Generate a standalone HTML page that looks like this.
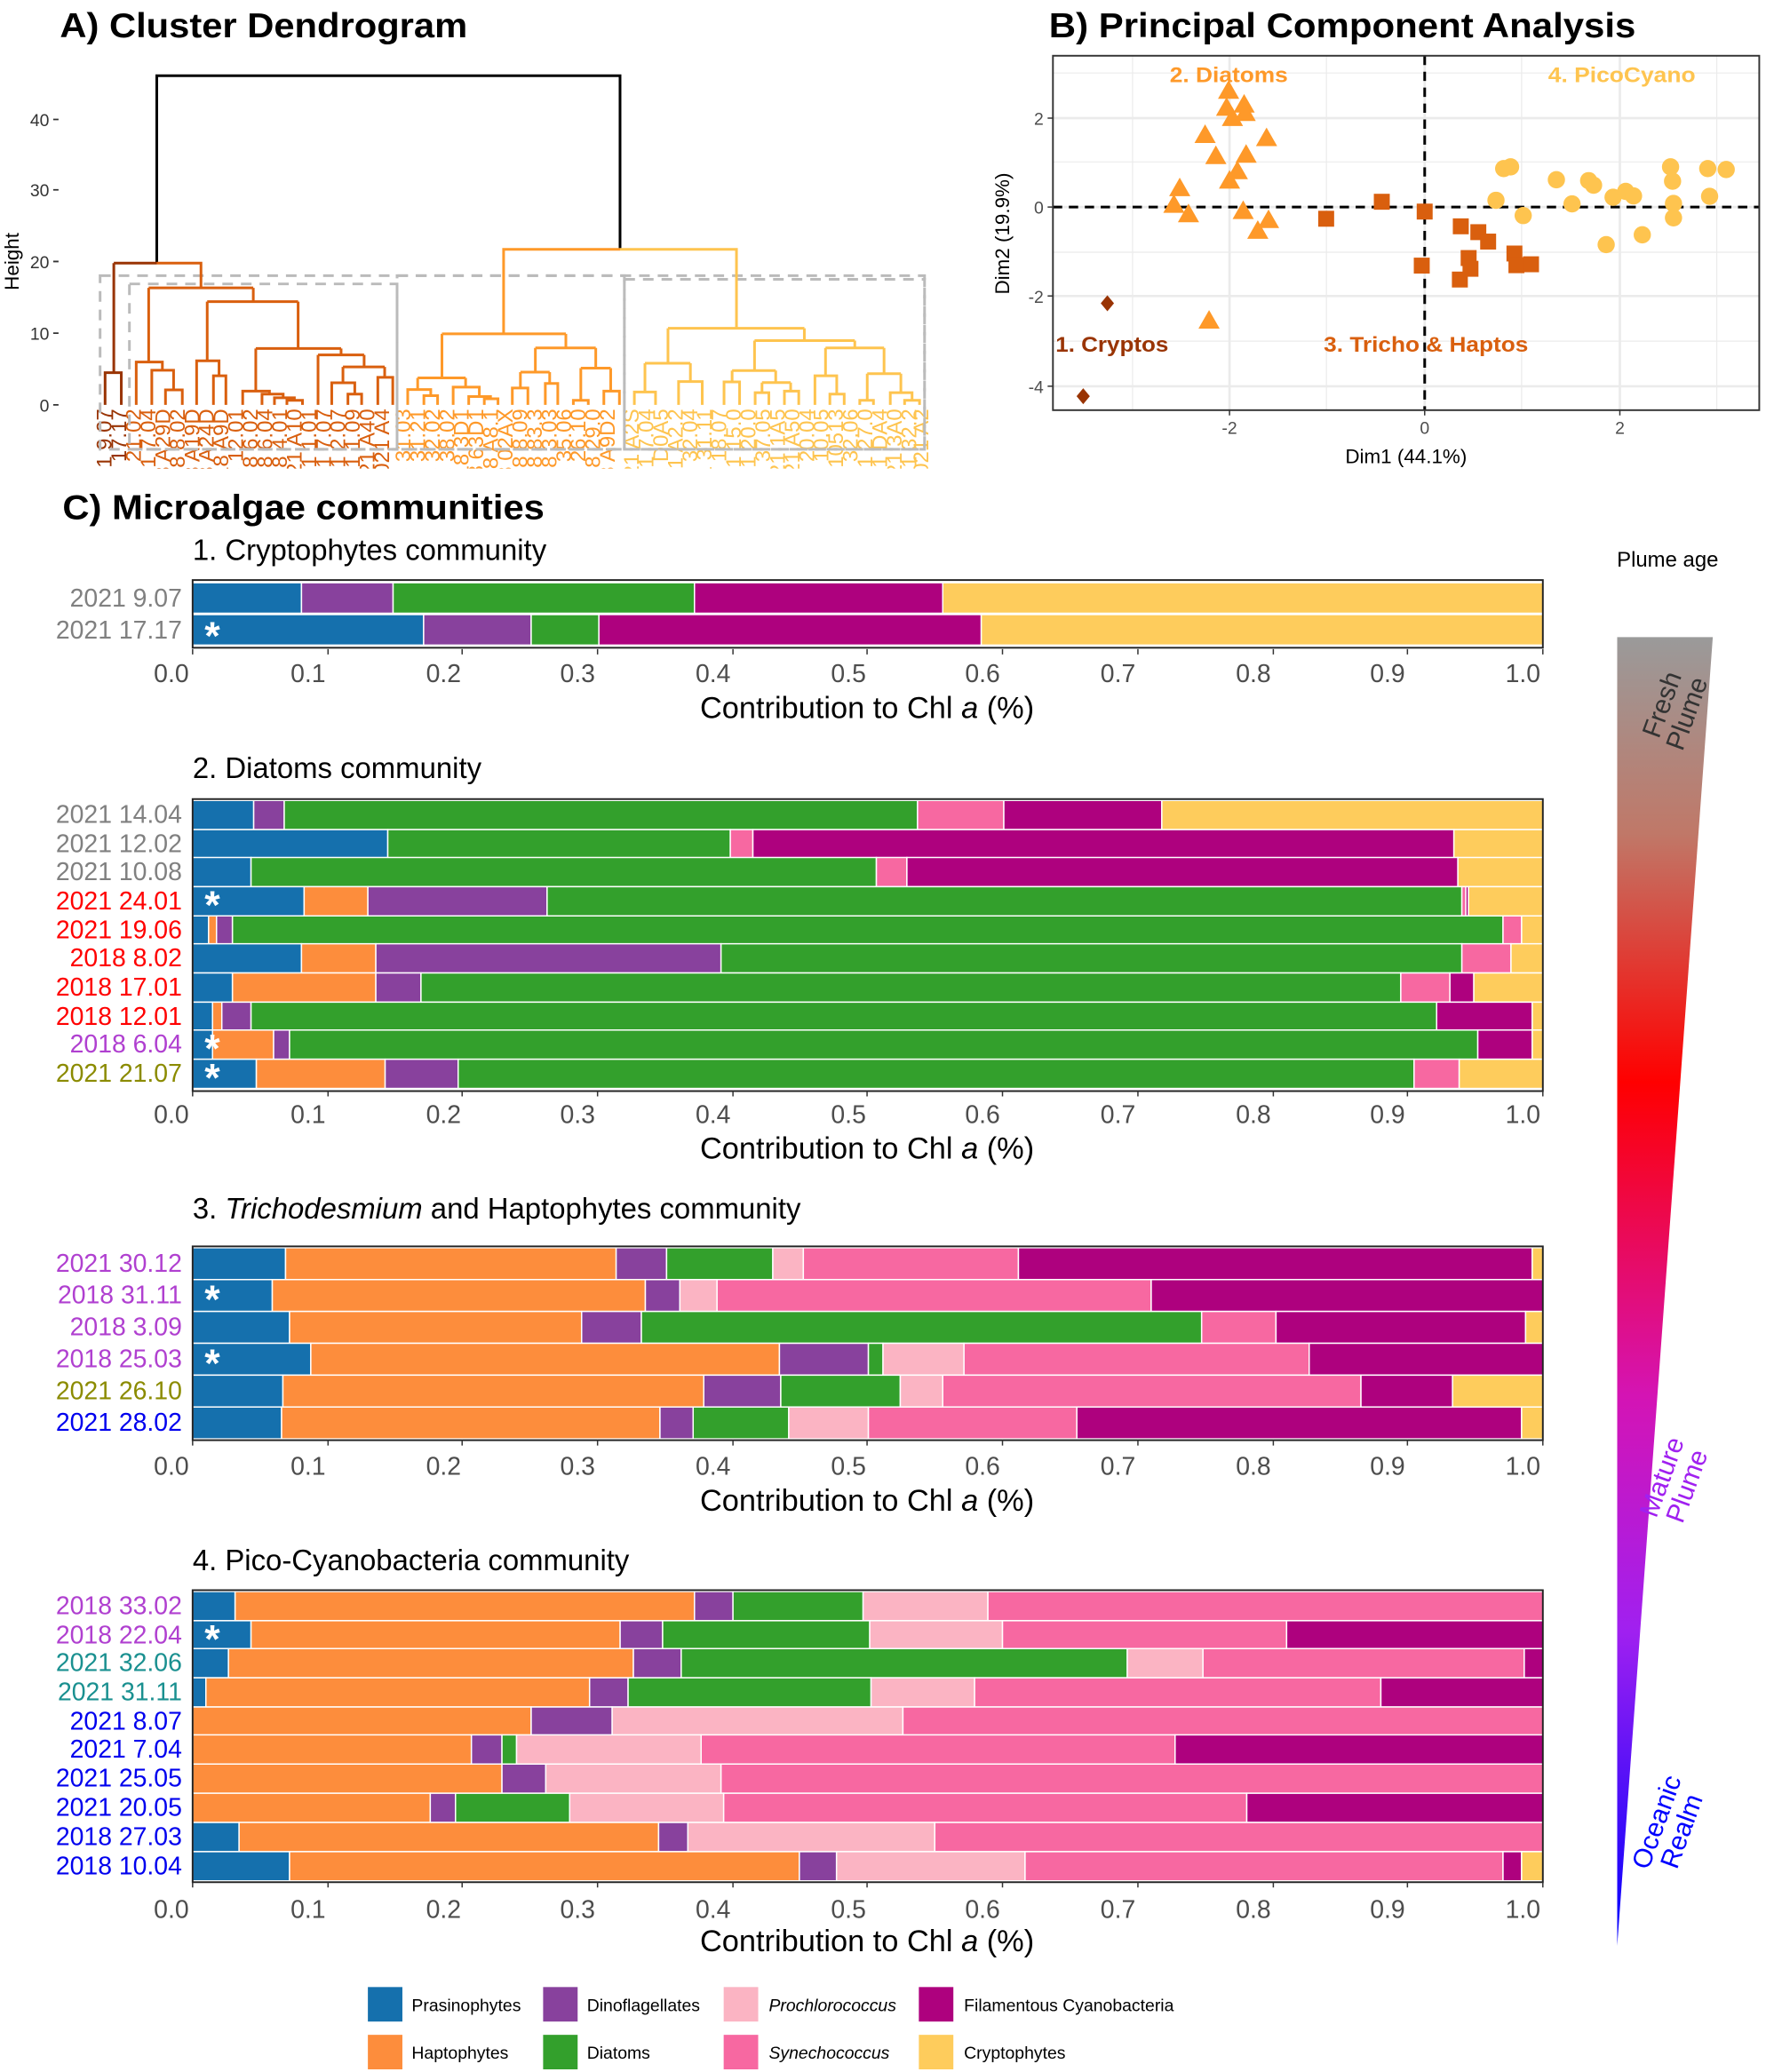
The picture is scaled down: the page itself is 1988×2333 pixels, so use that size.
<!DOCTYPE html>
<html><head><meta charset="utf-8"><style>
html,body{margin:0;padding:0;background:#fff}
svg{display:block}
text{font-family:"Liberation Sans",sans-serif}
.P{fill:#1570ad}.H{fill:#fd8d3c}.D{fill:#88419d}.Di{fill:#33a02c}.Pr{fill:#fbb4c3}.Sy{fill:#f768a1}.F{fill:#ae017e}.C{fill:#fecc5c}
.bars rect{stroke:#fff;stroke-width:1}
.lab{font-size:19px;text-anchor:end}
.tick{font-size:19px;fill:#4d4d4d;text-anchor:middle}
.ast{font-size:30px;font-weight:bold;fill:#fff}
.leaf{font-size:16px;text-anchor:end}
.lg{font-size:13px}
</style></head><body>
<svg width="1988" height="2333" viewBox="0 0 1330 1561" xmlns="http://www.w3.org/2000/svg">
<defs>
<path id="tri" d="M0 -8 L-8 6 L8 6Z" fill="#fe9929"/>
<rect id="sq" x="-6" y="-6" width="12" height="12" fill="#d95f0e"/>
<circle id="ci" r="6.5" fill="#fec44f"/>
<path id="di" d="M0 -6 L5 0 L0 6 L-5 0Z" fill="#993404"/>
<clipPath id="lc"><rect x="60" y="290" width="660" height="63"/></clipPath>
<linearGradient id="pg" gradientUnits="userSpaceOnUse" x1="0" y1="480" x2="0" y2="1466">
<stop offset="0" stop-color="#9a9a9a"/><stop offset="0.15" stop-color="#c07868"/><stop offset="0.34" stop-color="#ff0000"/><stop offset="0.58" stop-color="#d414b4"/><stop offset="0.76" stop-color="#a020f0"/><stop offset="1" stop-color="#0000ff"/>
</linearGradient>
</defs>

<!-- A) Dendrogram -->
<text x="45" y="28" font-size="26" font-weight="bold" textLength="307" lengthAdjust="spacingAndGlyphs">A) Cluster Dendrogram</text>
<g font-size="13" fill="#333" text-anchor="end">
<text x="37" y="95">40</text><text x="37" y="148">30</text><text x="37" y="202">20</text><text x="37" y="256">10</text><text x="37" y="310">0</text>
</g>
<g stroke="#333" stroke-width="1.2"><path d="M40 90H44M40 143H44M40 197H44M40 251H44M40 305H44"/></g>
<text transform="translate(14,197) rotate(-90)" font-size="15" text-anchor="middle">Height</text>

<g class="leaf" clip-path="url(#lc)">
<g fill="#993404">
<text transform="translate(84,308) rotate(-90)">2021 9.07</text><text transform="translate(95,308) rotate(-90)">2021 17.17</text>
</g>
<g fill="#d95f0e">
<text transform="translate(106,308) rotate(-90)">2021 21.02</text><text transform="translate(117,308) rotate(-90)">2021 7.04</text><text transform="translate(128,308) rotate(-90)">2018 A29D</text><text transform="translate(139,308) rotate(-90)">2018 8.02</text><text transform="translate(150,308) rotate(-90)">2018 A19D</text><text transform="translate(161,308) rotate(-90)">2018 A24D</text><text transform="translate(172,308) rotate(-90)">2018 A9D</text><text transform="translate(183,308) rotate(-90)">2018 12.01</text><text transform="translate(194,308) rotate(-90)">2018 6.02</text><text transform="translate(205,308) rotate(-90)">2018 6.04</text><text transform="translate(216,308) rotate(-90)">2018 4.01</text><text transform="translate(227,308) rotate(-90)">2021 A10</text><text transform="translate(238,308) rotate(-90)">2021 1.01</text><text transform="translate(249,308) rotate(-90)">2021 7.07</text><text transform="translate(260,308) rotate(-90)">2021 2.07</text><text transform="translate(271,308) rotate(-90)">2021 1.09</text><text transform="translate(282,308) rotate(-90)">2021 A40</text><text transform="translate(293,308) rotate(-90)">2021 A4</text>
</g>
<g fill="#fe9929">
<text transform="translate(309,308) rotate(-90)">2018 31.03</text><text transform="translate(320,308) rotate(-90)">2018 31.21</text><text transform="translate(331,308) rotate(-90)">2018 32.02</text><text transform="translate(342,308) rotate(-90)">2018 38.02</text><text transform="translate(353,308) rotate(-90)">2018 3D1</text><text transform="translate(364,308) rotate(-90)">2018 63D1</text><text transform="translate(375,308) rotate(-90)">2018 A8.1</text><text transform="translate(386,308) rotate(-90)">2018 02AX</text><text transform="translate(397,308) rotate(-90)">2018 8.09</text><text transform="translate(408,308) rotate(-90)">2018 83.3</text><text transform="translate(419,308) rotate(-90)">2018 3.03</text><text transform="translate(430,308) rotate(-90)">2018 35.06</text><text transform="translate(441,308) rotate(-90)">2018 26.10</text><text transform="translate(452,308) rotate(-90)">2018 29.0</text><text transform="translate(463,308) rotate(-90)">2018 A9D2</text>
</g>
<g fill="#fec44f">
<text transform="translate(481,308) rotate(-90)">2021 A2S</text><text transform="translate(492,308) rotate(-90)">2021 7.04</text><text transform="translate(503,308) rotate(-90)">2021 D0A5</text><text transform="translate(514,308) rotate(-90)">2021 A2.2</text><text transform="translate(525,308) rotate(-90)">2021 32.04</text><text transform="translate(536,308) rotate(-90)">2021 31.11</text><text transform="translate(547,308) rotate(-90)">2021 18.07</text><text transform="translate(558,308) rotate(-90)">2021 15.0</text><text transform="translate(569,308) rotate(-90)">2021 20.0</text><text transform="translate(580,308) rotate(-90)">2021 37.05</text><text transform="translate(591,308) rotate(-90)">2021 1A5</text><text transform="translate(602,308) rotate(-90)">2021 A50</text><text transform="translate(613,308) rotate(-90)">2021 20.04</text><text transform="translate(624,308) rotate(-90)">2021 10.05</text><text transform="translate(635,308) rotate(-90)">2021 10513</text><text transform="translate(646,308) rotate(-90)">2021 32.06</text><text transform="translate(657,308) rotate(-90)">2021 27.0</text><text transform="translate(668,308) rotate(-90)">2021 DA4</text><text transform="translate(679,308) rotate(-90)">2021 3A0</text><text transform="translate(690,308) rotate(-90)">2021 32.2</text><text transform="translate(699,308) rotate(-90)">2021 A2</text>
</g>
</g>

<g stroke="#bbbbbb" stroke-dasharray="8 6" stroke-width="2" fill="none">
<rect x="75.3" y="207.7" width="621" height="130.8"/>
<rect x="97.4" y="213.9" width="201.6" height="124.6"/>
<rect x="299" y="207.7" width="171.2" height="130.8"/>
<rect x="470.2" y="210.4" width="226.1" height="128.1"/>
</g>

<g transform="translate(1.22,0.49) scale(0.469,0.2307)" fill="none" stroke-width="3">
<path vector-effect="non-scaling-stroke" stroke="#000" d="M249 857 V245 H993 V812"/>
<path vector-effect="non-scaling-stroke" stroke="#993404" d="M180 857 H249 M180 857 V1215 M166 1320 V1215 H192 V1320"/>
<path vector-effect="non-scaling-stroke" stroke="#d95f0e" d="M249 857 H320 V938 M236 938 H404 M236 938 V1180 M216 1320 V1180 H258 V1207 M241 1320 V1207 H276 V1271 M263 1320 V1271 H290 V1320 M404 938 V983 M330 983 H476 M330 983 V1176 M313 1320 V1176 H349 V1225 M340 1320 V1225 H360 V1320 M476 983 V1136 M408 1136 H545 M408 1136 V1275 M387 1320 V1275 H430 V1285 M418 1320 V1285 H452 V1297 M438 1320 V1297 H470 V1305 M458 1320 V1305 H483 V1320 M545 1136 V1157 M508 1157 H582 M508 1157 V1320 M582 1157 V1196 M548 1196 H615 M548 1196 V1248 M530 1320 V1248 H567 V1285 M556 1320 V1285 H578 V1320 M615 1196 V1230 M604 1320 V1230 H628 V1320"/>
<path vector-effect="non-scaling-stroke" stroke="#fe9929" d="M993 812 H806 V1088 M707 1088 H906 M707 1088 V1232 M668 1232 H745 M668 1232 V1270 M652 1320 V1270 H689 V1290 M678 1320 V1290 H700 V1320 M745 1232 V1262 M725 1320 V1262 H767 V1293 M750 1320 V1293 H785 V1300 M775 1320 V1300 H797 V1320 M906 1088 V1134 M857 1134 H954 M857 1134 V1213 M833 1213 H880 M833 1213 V1265 M820 1320 V1265 H845 V1320 M880 1213 V1250 M873 1320 V1250 H893 V1320 M954 1134 V1200 M930 1200 H978 M930 1200 V1305 M918 1320 V1305 H942 V1320 M978 1200 V1275 M967 1320 V1275 H992 V1320"/>
<path vector-effect="non-scaling-stroke" stroke="#fec44f" d="M993 812 H1180 V1070 M1070 1070 H1289 M1070 1070 V1184 M1033 1184 H1106 M1033 1184 V1278 M1016 1320 V1278 H1050 V1320 M1106 1184 V1244 M1087 1320 V1244 H1125 V1320 M1289 1070 V1110 M1209 1110 H1370 M1209 1110 V1208 M1173 1208 H1243 M1173 1208 V1245 M1160 1320 V1245 H1185 V1320 M1243 1208 V1247 M1221 1247 H1267 M1221 1247 V1280 M1210 1320 V1280 H1232 V1320 M1267 1247 V1275 M1257 1320 V1275 H1280 V1320 M1370 1110 V1134 M1323 1134 H1417 M1323 1134 V1225 M1306 1320 V1225 H1341 V1285 M1330 1320 V1285 H1353 V1320 M1417 1134 V1218 M1390 1218 H1444 M1390 1218 V1305 M1378 1320 V1305 H1400 V1320 M1444 1218 V1280 M1427 1320 V1280 H1462 V1305 M1450 1320 V1305 H1474 V1320"/>
</g>

<!-- B) PCA -->
<text x="790" y="28" font-size="26" font-weight="bold" textLength="442" lengthAdjust="spacingAndGlyphs">B) Principal Component Analysis</text>
<g stroke="#ebebeb" stroke-width="0.8"><path d="M853 42V309M999 42V309M1146 42V309M1293 42V309M793 55H1325M793 122H1325M793 190H1325M793 257H1325"/></g>
<g stroke="#ebebeb" stroke-width="1.8"><path d="M926 42V309M1073 42V309M1220 42V309M793 89H1325M793 156H1325M793 223H1325M793 291H1325"/></g>
<g stroke="#000" stroke-width="2" stroke-dasharray="7 5"><path d="M1073 42V309M793 156H1325"/></g>
<g>
<use href="#tri" x="925.3" y="68.4"/><use href="#tri" x="923.8" y="81.2"/><use href="#tri" x="937" y="78.8"/><use href="#tri" x="937.8" y="85.2"/><use href="#tri" x="928.2" y="88.9"/><use href="#tri" x="907.6" y="101.7"/><use href="#tri" x="953.9" y="104.1"/><use href="#tri" x="915.7" y="117.6"/><use href="#tri" x="938.5" y="116.6"/><use href="#tri" x="931.9" y="129"/><use href="#tri" x="926" y="136.1"/><use href="#tri" x="888.5" y="141.8"/><use href="#tri" x="884.1" y="154.3"/><use href="#tri" x="895.1" y="161.4"/><use href="#tri" x="936.3" y="159"/><use href="#tri" x="955.4" y="165.8"/><use href="#tri" x="947.3" y="173.9"/><use href="#tri" x="910.6" y="241.6"/>
<use href="#sq" x="1040.7" y="152"/><use href="#sq" x="998.8" y="164.8"/><use href="#sq" x="1073" y="159.4"/><use href="#sq" x="1100.2" y="170.5"/><use href="#sq" x="1113.4" y="174.9"/><use href="#sq" x="1120.8" y="182"/><use href="#sq" x="1140.6" y="191"/><use href="#sq" x="1106.1" y="194.4"/><use href="#sq" x="1107.5" y="202.5"/><use href="#sq" x="1070.8" y="200.1"/><use href="#sq" x="1099.5" y="210.6"/><use href="#sq" x="1142.1" y="199.8"/><use href="#sq" x="1153.1" y="199.1"/>
<use href="#ci" x="1132.5" y="127"/><use href="#ci" x="1137.7" y="125.7"/><use href="#ci" x="1126.7" y="150.9"/><use href="#ci" x="1147.2" y="162.4"/><use href="#ci" x="1172.2" y="135.4"/><use href="#ci" x="1184" y="153.6"/><use href="#ci" x="1196.5" y="136.1"/><use href="#ci" x="1200.2" y="139.5"/><use href="#ci" x="1214.9" y="148.6"/><use href="#ci" x="1224.4" y="144.2"/><use href="#ci" x="1230.3" y="147.6"/><use href="#ci" x="1209.7" y="184.3"/><use href="#ci" x="1236.9" y="176.9"/><use href="#ci" x="1258.2" y="125.7"/><use href="#ci" x="1259.7" y="136.5"/><use href="#ci" x="1260.4" y="153.3"/><use href="#ci" x="1260.4" y="164.1"/><use href="#ci" x="1286.2" y="127"/><use href="#ci" x="1300.1" y="127.7"/><use href="#ci" x="1287.6" y="147.9"/>
<use href="#di" x="834" y="228.5"/><use href="#di" x="815.8" y="298.5"/>
</g>
<g font-size="16" font-weight="bold">
<text x="881" y="62" fill="#fe9929" textLength="89" lengthAdjust="spacingAndGlyphs">2. Diatoms</text>
<text x="1166" y="62" fill="#fec44f" textLength="111" lengthAdjust="spacingAndGlyphs">4. PicoCyano</text>
<text x="795" y="265" fill="#993404" textLength="85" lengthAdjust="spacingAndGlyphs">1. Cryptos</text>
<text x="997" y="265" fill="#d95f0e" textLength="154" lengthAdjust="spacingAndGlyphs">3. Tricho &amp; Haptos</text>
</g>
<rect x="793" y="42" width="532" height="267" fill="none" stroke="#333" stroke-width="1.3"/>
<g stroke="#333" stroke-width="1"><path d="M926 309V313M1073 309V313M1220 309V313M789 89H793M789 156H793M789 223H793M789 291H793"/></g>
<g font-size="13" fill="#4d4d4d" text-anchor="middle"><text x="926" y="327">-2</text><text x="1073" y="327">0</text><text x="1220" y="327">2</text></g>
<g font-size="13" fill="#4d4d4d" text-anchor="end"><text x="786" y="94">2</text><text x="786" y="161">0</text><text x="786" y="228">-2</text><text x="786" y="296">-4</text></g>
<text x="1059" y="349" font-size="15" text-anchor="middle">Dim1 (44.1%)</text>
<text transform="translate(760,176) rotate(-90)" font-size="15" text-anchor="middle">Dim2 (19.9%)</text>

<!-- C) -->
<text x="47" y="391" font-size="26" font-weight="bold" textLength="363" lengthAdjust="spacingAndGlyphs">C) Microalgae communities</text>
<g font-size="22">
<text x="145" y="422">1. Cryptophytes community</text>
<text x="145" y="586">2. Diatoms community</text>
<text x="145" y="918">3. <tspan font-style="italic">Trichodesmium</tspan> and Haptophytes community</text>
<text x="145" y="1183">4. Pico-Cyanobacteria community</text>
</g>

<g class="bars">
<rect class="P" x="145" y="439" width="82" height="23"/><rect class="D" x="227" y="439" width="69" height="23"/><rect class="Di" x="296" y="439" width="227" height="23"/><rect class="F" x="523" y="439" width="187" height="23"/><rect class="C" x="710" y="439" width="452" height="23"/>
<rect class="P" x="145" y="463" width="174" height="23"/><rect class="D" x="319" y="463" width="81" height="23"/><rect class="Di" x="400" y="463" width="51" height="23"/><rect class="F" x="451" y="463" width="288" height="23"/><rect class="C" x="739" y="463" width="423" height="23"/>
<rect class="P" x="145" y="603" width="46" height="22"/><rect class="D" x="191" y="603" width="23" height="22"/><rect class="Di" x="214" y="603" width="477" height="22"/><rect class="Sy" x="691" y="603" width="65" height="22"/><rect class="F" x="756" y="603" width="119" height="22"/><rect class="C" x="875" y="603" width="287" height="22"/>
<rect class="P" x="145" y="625" width="147" height="22"/><rect class="Di" x="292" y="625" width="258" height="22"/><rect class="Sy" x="550" y="625" width="17" height="22"/><rect class="F" x="567" y="625" width="528" height="22"/><rect class="C" x="1095" y="625" width="67" height="22"/>
<rect class="P" x="145" y="646" width="44" height="22"/><rect class="Di" x="189" y="646" width="471" height="22"/><rect class="Sy" x="660" y="646" width="23" height="22"/><rect class="F" x="683" y="646" width="415" height="22"/><rect class="C" x="1098" y="646" width="64" height="22"/>
<rect class="P" x="145" y="668" width="84" height="22"/><rect class="H" x="229" y="668" width="48" height="22"/><rect class="D" x="277" y="668" width="135" height="22"/><rect class="Di" x="412" y="668" width="689" height="22"/><rect class="Sy" x="1101" y="668" width="3" height="22"/><rect class="F" x="1104" y="668" width="2" height="22"/><rect class="C" x="1106" y="668" width="56" height="22"/>
<rect class="P" x="145" y="690" width="12" height="22"/><rect class="H" x="157" y="690" width="6" height="22"/><rect class="D" x="163" y="690" width="12" height="22"/><rect class="Di" x="175" y="690" width="957" height="22"/><rect class="Sy" x="1132" y="690" width="14" height="22"/><rect class="C" x="1146" y="690" width="16" height="22"/>
<rect class="P" x="145" y="711" width="82" height="22"/><rect class="H" x="227" y="711" width="56" height="22"/><rect class="D" x="283" y="711" width="260" height="22"/><rect class="Di" x="543" y="711" width="558" height="22"/><rect class="Sy" x="1101" y="711" width="37" height="22"/><rect class="C" x="1138" y="711" width="24" height="22"/>
<rect class="P" x="145" y="733" width="30" height="22"/><rect class="H" x="175" y="733" width="108" height="22"/><rect class="D" x="283" y="733" width="34" height="22"/><rect class="Di" x="317" y="733" width="738" height="22"/><rect class="Sy" x="1055" y="733" width="37" height="22"/><rect class="F" x="1092" y="733" width="18" height="22"/><rect class="C" x="1110" y="733" width="52" height="22"/>
<rect class="P" x="145" y="755" width="15" height="22"/><rect class="H" x="160" y="755" width="7" height="22"/><rect class="D" x="167" y="755" width="22" height="22"/><rect class="Di" x="189" y="755" width="893" height="22"/><rect class="F" x="1082" y="755" width="72" height="22"/><rect class="C" x="1154" y="755" width="8" height="22"/>
<rect class="P" x="145" y="776" width="15" height="22"/><rect class="H" x="160" y="776" width="46" height="22"/><rect class="D" x="206" y="776" width="12" height="22"/><rect class="Di" x="218" y="776" width="895" height="22"/><rect class="F" x="1113" y="776" width="41" height="22"/><rect class="C" x="1154" y="776" width="8" height="22"/>
<rect class="P" x="145" y="798" width="48" height="22"/><rect class="H" x="193" y="798" width="97" height="22"/><rect class="D" x="290" y="798" width="55" height="22"/><rect class="Di" x="345" y="798" width="720" height="22"/><rect class="Sy" x="1065" y="798" width="34" height="22"/><rect class="C" x="1099" y="798" width="63" height="22"/>
<rect class="P" x="145" y="940" width="70" height="24"/><rect class="H" x="215" y="940" width="249" height="24"/><rect class="D" x="464" y="940" width="38" height="24"/><rect class="Di" x="502" y="940" width="80" height="24"/><rect class="Pr" x="582" y="940" width="23" height="24"/><rect class="Sy" x="605" y="940" width="162" height="24"/><rect class="F" x="767" y="940" width="387" height="24"/><rect class="C" x="1154" y="940" width="8" height="24"/>
<rect class="P" x="145" y="964" width="60" height="24"/><rect class="H" x="205" y="964" width="281" height="24"/><rect class="D" x="486" y="964" width="26" height="24"/><rect class="Pr" x="512" y="964" width="28" height="24"/><rect class="Sy" x="540" y="964" width="327" height="24"/><rect class="F" x="867" y="964" width="295" height="24"/>
<rect class="P" x="145" y="988" width="73" height="24"/><rect class="H" x="218" y="988" width="220" height="24"/><rect class="D" x="438" y="988" width="45" height="24"/><rect class="Di" x="483" y="988" width="422" height="24"/><rect class="Sy" x="905" y="988" width="56" height="24"/><rect class="F" x="961" y="988" width="188" height="24"/><rect class="C" x="1149" y="988" width="13" height="24"/>
<rect class="P" x="145" y="1012" width="89" height="24"/><rect class="H" x="234" y="1012" width="353" height="24"/><rect class="D" x="587" y="1012" width="67" height="24"/><rect class="Di" x="654" y="1012" width="11" height="24"/><rect class="Pr" x="665" y="1012" width="61" height="24"/><rect class="Sy" x="726" y="1012" width="260" height="24"/><rect class="F" x="986" y="1012" width="176" height="24"/>
<rect class="P" x="145" y="1036" width="68" height="24"/><rect class="H" x="213" y="1036" width="317" height="24"/><rect class="D" x="530" y="1036" width="58" height="24"/><rect class="Di" x="588" y="1036" width="90" height="24"/><rect class="Pr" x="678" y="1036" width="32" height="24"/><rect class="Sy" x="710" y="1036" width="315" height="24"/><rect class="F" x="1025" y="1036" width="69" height="24"/><rect class="C" x="1094" y="1036" width="68" height="24"/>
<rect class="P" x="145" y="1060" width="67" height="24"/><rect class="H" x="212" y="1060" width="285" height="24"/><rect class="D" x="497" y="1060" width="25" height="24"/><rect class="Di" x="522" y="1060" width="72" height="24"/><rect class="Pr" x="594" y="1060" width="60" height="24"/><rect class="Sy" x="654" y="1060" width="157" height="24"/><rect class="F" x="811" y="1060" width="335" height="24"/><rect class="C" x="1146" y="1060" width="16" height="24"/>
<rect class="P" x="145" y="1199" width="32" height="22"/><rect class="H" x="177" y="1199" width="346" height="22"/><rect class="D" x="523" y="1199" width="29" height="22"/><rect class="Di" x="552" y="1199" width="98" height="22"/><rect class="Pr" x="650" y="1199" width="94" height="22"/><rect class="Sy" x="744" y="1199" width="418" height="22"/>
<rect class="P" x="145" y="1221" width="44" height="22"/><rect class="H" x="189" y="1221" width="278" height="22"/><rect class="D" x="467" y="1221" width="32" height="22"/><rect class="Di" x="499" y="1221" width="156" height="22"/><rect class="Pr" x="655" y="1221" width="100" height="22"/><rect class="Sy" x="755" y="1221" width="214" height="22"/><rect class="F" x="969" y="1221" width="193" height="22"/>
<rect class="P" x="145" y="1242" width="27" height="22"/><rect class="H" x="172" y="1242" width="305" height="22"/><rect class="D" x="477" y="1242" width="36" height="22"/><rect class="Di" x="513" y="1242" width="336" height="22"/><rect class="Pr" x="849" y="1242" width="57" height="22"/><rect class="Sy" x="906" y="1242" width="242" height="22"/><rect class="F" x="1148" y="1242" width="14" height="22"/>
<rect class="P" x="145" y="1264" width="10" height="22"/><rect class="H" x="155" y="1264" width="289" height="22"/><rect class="D" x="444" y="1264" width="29" height="22"/><rect class="Di" x="473" y="1264" width="183" height="22"/><rect class="Pr" x="656" y="1264" width="78" height="22"/><rect class="Sy" x="734" y="1264" width="306" height="22"/><rect class="F" x="1040" y="1264" width="122" height="22"/>
<rect class="H" x="145" y="1286" width="255" height="22"/><rect class="D" x="400" y="1286" width="61" height="22"/><rect class="Pr" x="461" y="1286" width="219" height="22"/><rect class="Sy" x="680" y="1286" width="482" height="22"/>
<rect class="H" x="145" y="1307" width="210" height="22"/><rect class="D" x="355" y="1307" width="23" height="22"/><rect class="Di" x="378" y="1307" width="11" height="22"/><rect class="Pr" x="389" y="1307" width="139" height="22"/><rect class="Sy" x="528" y="1307" width="357" height="22"/><rect class="F" x="885" y="1307" width="277" height="22"/>
<rect class="H" x="145" y="1329" width="233" height="22"/><rect class="D" x="378" y="1329" width="33" height="22"/><rect class="Pr" x="411" y="1329" width="132" height="22"/><rect class="Sy" x="543" y="1329" width="619" height="22"/>
<rect class="H" x="145" y="1351" width="179" height="22"/><rect class="D" x="324" y="1351" width="19" height="22"/><rect class="Di" x="343" y="1351" width="86" height="22"/><rect class="Pr" x="429" y="1351" width="116" height="22"/><rect class="Sy" x="545" y="1351" width="394" height="22"/><rect class="F" x="939" y="1351" width="223" height="22"/>
<rect class="P" x="145" y="1373" width="35" height="22"/><rect class="H" x="180" y="1373" width="316" height="22"/><rect class="D" x="496" y="1373" width="22" height="22"/><rect class="Pr" x="518" y="1373" width="186" height="22"/><rect class="Sy" x="704" y="1373" width="458" height="22"/>
<rect class="P" x="145" y="1395" width="73" height="22"/><rect class="H" x="218" y="1395" width="384" height="22"/><rect class="D" x="602" y="1395" width="28" height="22"/><rect class="Pr" x="630" y="1395" width="142" height="22"/><rect class="Sy" x="772" y="1395" width="360" height="22"/><rect class="F" x="1132" y="1395" width="14" height="22"/><rect class="C" x="1146" y="1395" width="16" height="22"/>
</g>

<g fill="none" stroke="#222" stroke-width="1.3">
<rect x="145" y="437" width="1017" height="51"/>
<rect x="145" y="602" width="1017" height="220"/>
<rect x="145" y="939" width="1017" height="146"/>
<rect x="145" y="1198" width="1017" height="220"/>
</g>

<g class="ast">
<text x="154" y="489">*</text>
<text x="154" y="692">*</text><text x="154" y="800">*</text><text x="154" y="822">*</text>
<text x="154" y="989">*</text><text x="154" y="1037">*</text>
<text x="154" y="1245">*</text>
</g>

<g class="lab">
<text x="137" y="457" fill="#808080">2021 9.07</text><text x="137" y="481" fill="#808080">2021 17.17</text>
<text x="137" y="620" fill="#808080">2021 14.04</text><text x="137" y="642" fill="#808080">2021 12.02</text><text x="137" y="663" fill="#808080">2021 10.08</text>
<text x="137" y="685" fill="#ff0000">2021 24.01</text><text x="137" y="707" fill="#ff0000">2021 19.06</text><text x="137" y="728" fill="#ff0000">2018 8.02</text><text x="137" y="750" fill="#ff0000">2018 17.01</text><text x="137" y="772" fill="#ff0000">2018 12.01</text>
<text x="137" y="793" fill="#b040d0">2018 6.04</text><text x="137" y="815" fill="#8b8b00">2021 21.07</text>
<text x="137" y="958" fill="#b040d0">2021 30.12</text><text x="137" y="982" fill="#b040d0">2018 31.11</text><text x="137" y="1006" fill="#b040d0">2018 3.09</text><text x="137" y="1030" fill="#b040d0">2018 25.03</text><text x="137" y="1054" fill="#8b8b00">2021 26.10</text><text x="137" y="1078" fill="#0000ee">2021 28.02</text>
<text x="137" y="1216" fill="#b040d0">2018 33.02</text><text x="137" y="1238" fill="#b040d0">2018 22.04</text><text x="137" y="1259" fill="#1a9090">2021 32.06</text><text x="137" y="1281" fill="#1a9090">2021 31.11</text>
<text x="137" y="1303" fill="#0000ee">2021 8.07</text><text x="137" y="1324" fill="#0000ee">2021 7.04</text><text x="137" y="1346" fill="#0000ee">2021 25.05</text><text x="137" y="1368" fill="#0000ee">2021 20.05</text><text x="137" y="1390" fill="#0000ee">2018 27.03</text><text x="137" y="1412" fill="#0000ee">2018 10.04</text>
</g>

<g stroke="#333" stroke-width="1">
<path d="M145 489v4M247 489v4M348 489v4M450 489v4M552 489v4M653 489v4M755 489v4M857 489v4M959 489v4M1060 489v4M1162 489v4"/>
<path d="M145 822v4M247 822v4M348 822v4M450 822v4M552 822v4M653 822v4M755 822v4M857 822v4M959 822v4M1060 822v4M1162 822v4"/>
<path d="M145 1085v4M247 1085v4M348 1085v4M450 1085v4M552 1085v4M653 1085v4M755 1085v4M857 1085v4M959 1085v4M1060 1085v4M1162 1085v4"/>
<path d="M145 1418v4M247 1418v4M348 1418v4M450 1418v4M552 1418v4M653 1418v4M755 1418v4M857 1418v4M959 1418v4M1060 1418v4M1162 1418v4"/>
</g>
<g class="tick">
<text x="129" y="514">0.0</text><text x="232" y="514">0.1</text><text x="334" y="514">0.2</text><text x="435" y="514">0.3</text><text x="537" y="514">0.4</text><text x="639" y="514">0.5</text><text x="740" y="514">0.6</text><text x="842" y="514">0.7</text><text x="944" y="514">0.8</text><text x="1045" y="514">0.9</text><text x="1147" y="514">1.0</text>
<text x="129" y="846">0.0</text><text x="232" y="846">0.1</text><text x="334" y="846">0.2</text><text x="435" y="846">0.3</text><text x="537" y="846">0.4</text><text x="639" y="846">0.5</text><text x="740" y="846">0.6</text><text x="842" y="846">0.7</text><text x="944" y="846">0.8</text><text x="1045" y="846">0.9</text><text x="1147" y="846">1.0</text>
<text x="129" y="1111">0.0</text><text x="232" y="1111">0.1</text><text x="334" y="1111">0.2</text><text x="435" y="1111">0.3</text><text x="537" y="1111">0.4</text><text x="639" y="1111">0.5</text><text x="740" y="1111">0.6</text><text x="842" y="1111">0.7</text><text x="944" y="1111">0.8</text><text x="1045" y="1111">0.9</text><text x="1147" y="1111">1.0</text>
<text x="129" y="1445">0.0</text><text x="232" y="1445">0.1</text><text x="334" y="1445">0.2</text><text x="435" y="1445">0.3</text><text x="537" y="1445">0.4</text><text x="639" y="1445">0.5</text><text x="740" y="1445">0.6</text><text x="842" y="1445">0.7</text><text x="944" y="1445">0.8</text><text x="1045" y="1445">0.9</text><text x="1147" y="1445">1.0</text>
</g>
<g font-size="23" text-anchor="middle">
<text x="653" y="541">Contribution to Chl <tspan font-style="italic">a</tspan> (%)</text>
<text x="653" y="873">Contribution to Chl <tspan font-style="italic">a</tspan> (%)</text>
<text x="653" y="1138">Contribution to Chl <tspan font-style="italic">a</tspan> (%)</text>
<text x="653" y="1470">Contribution to Chl <tspan font-style="italic">a</tspan> (%)</text>
</g>

<text x="1256" y="427" font-size="16" text-anchor="middle">Plume age</text>
<polygon points="1218,480 1290,480 1218,1466" fill="url(#pg)"/>
<g font-size="20" text-anchor="middle">
<text transform="translate(1258,533) rotate(-70)" fill="#333"><tspan x="0" y="0">Fresh</tspan><tspan x="0" y="20">Plume</tspan></text>
<text transform="translate(1258,1115) rotate(-70)" fill="#a020f0"><tspan x="0" y="0">Mature</tspan><tspan x="0" y="20">Plume</tspan></text>
<text transform="translate(1254,1375) rotate(-70)" fill="#0000ff"><tspan x="0" y="0">Oceanic</tspan><tspan x="0" y="20">Realm</tspan></text>
</g>

<g>
<rect class="P" x="277" y="1497" width="26" height="26"/><rect class="H" x="277" y="1533" width="26" height="26"/>
<rect class="D" x="409" y="1497" width="26" height="26"/><rect class="Di" x="409" y="1533" width="26" height="26"/>
<rect class="Pr" x="545" y="1497" width="26" height="26"/><rect class="Sy" x="545" y="1533" width="26" height="26"/>
<rect class="F" x="692" y="1497" width="26" height="26"/><rect class="C" x="692" y="1533" width="26" height="26"/>
</g>
<g class="lg">
<text x="310" y="1515">Prasinophytes</text><text x="310" y="1551">Haptophytes</text>
<text x="442" y="1515">Dinoflagellates</text><text x="442" y="1551">Diatoms</text>
<text x="579" y="1515" font-style="italic">Prochlorococcus</text><text x="579" y="1551" font-style="italic">Synechococcus</text>
<text x="726" y="1515">Filamentous Cyanobacteria</text><text x="726" y="1551">Cryptophytes</text>
</g>
</svg>
</body></html>
